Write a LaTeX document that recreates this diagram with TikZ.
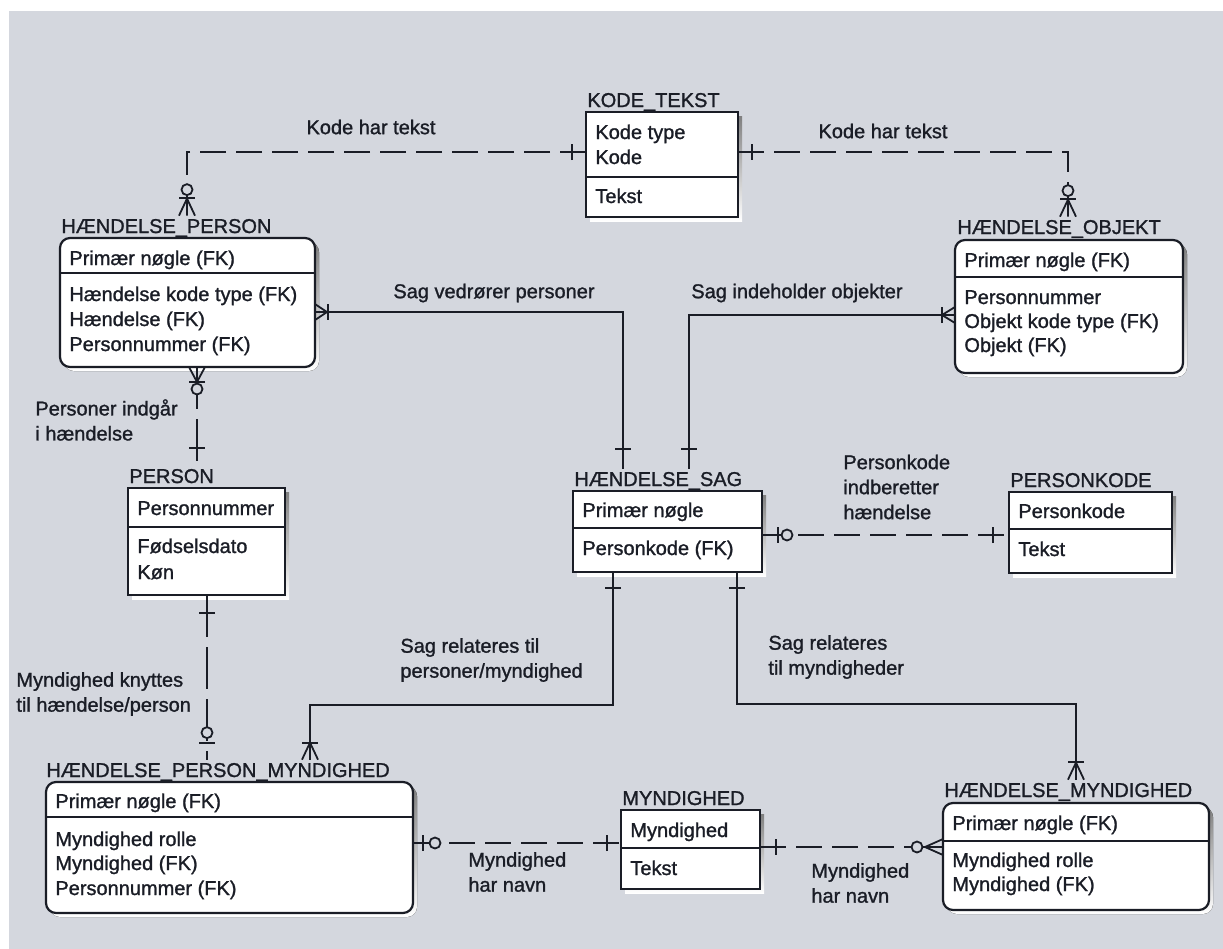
\documentclass[tikz,border=0pt]{standalone}
\usepackage{fontspec}
\setmainfont[FakeBold=1.2]{Liberation Sans}
\usetikzlibrary{fit}
\definecolor{paper}{RGB}{212,215,222}
\definecolor{ink}{RGB}{26,29,38}
\definecolor{shade}{RGB}{38,40,48}
\tikzset{
  fnt/.style={font=\fontsize{10}{12.5}\selectfont, text=ink},
  boxline/.style={draw=ink, line width=1.1pt},
  rel/.style={draw=ink, line width=0.9pt},
  nonid/.style={rel, dash pattern=on 13pt off 5pt},
  longdash/.style={rel, dash pattern=on 21pt off 5pt},
  etitle/.style={fnt, anchor=base west, inner xsep=0pt, inner ysep=1.5pt},
  attr/.style={fnt, anchor=base west, inner sep=0pt},
  rlabel/.style={fnt, align=left, anchor=west, inner sep=0pt},
  bar/.pic={\draw[rel, solid] (#1,-8) -- (#1,8);},
  crow/.pic={\draw[rel, solid] (0,-8) -- (#1,0) -- (0,8) (0,0) -- (#1,0);},
  ring/.pic={\draw[rel, solid, fill=paper] (#1,0) circle[radius=5.5];},
}
% entity box: name, x1, y1, x2, y2, key divider y, corner style
\newcommand{\erent}[7]{%
  \node[inner sep=0pt, outer sep=0pt, fit={(#2,#3) (#4,#5)}] (#1) {};
  \fill[shade, #7] ([shift={(4,4)}]#1.north west) rectangle ([shift={(4,4)}]#1.south east);
  \draw[boxline, fill=white, #7] (#1.north west) rectangle (#1.south east);
  \draw[boxline] (#1.west |- 0,#6) -- (#1.east |- 0,#6);
}
\begin{document}
\begin{tikzpicture}[x=0.5pt, y=-0.5pt]
\useasboundingbox (0,0) rectangle (1223,949);
\fill[white] (0,0) rectangle (1223,949);
\fill[paper] (9,11) rectangle (1223,949);

% ---------- entities ----------
\erent{kt}{586}{112}{738}{217}{177}{sharp corners}
\node[etitle] (ktT) at (587,107) {KODE\_TEKST};
\node[attr] (kt1) at (595,139) {Kode type};
\node[attr] (kt2) at (595,164) {Kode};
\node[attr] (kt3) at (595,203) {Tekst};

\erent{hp}{60}{238}{315}{367}{273}{rounded corners=5pt}
\node[etitle] (hpT) at (61,233) {HÆNDELSE\_PERSON};
\node[attr] (hp1) at (69,265) {Primær nøgle (FK)};
\node[attr] (hp2) at (69,301) {Hændelse kode type (FK)};
\node[attr] (hp3) at (69,326) {Hændelse (FK)};
\node[attr] (hp4) at (69,351) {Personnummer (FK)};

\erent{ho}{955}{240}{1183}{373}{277}{rounded corners=5pt}
\node[etitle] (hoT) at (957,234) {HÆNDELSE\_OBJEKT};
\node[attr] (ho1) at (964,267) {Primær nøgle (FK)};
\node[attr] (ho2) at (964,304) {Personnummer};
\node[attr] (ho3) at (964,328) {Objekt kode type (FK)};
\node[attr] (ho4) at (964,352) {Objekt (FK)};

\erent{sag}{573}{491}{762}{572}{528}{sharp corners}
\node[etitle] (sagT) at (574,486) {HÆNDELSE\_SAG};
\node[attr] (sag1) at (582,517) {Primær nøgle};
\node[attr] (sag2) at (582,555) {Personkode (FK)};

\erent{pk}{1009}{492}{1172}{573}{529}{sharp corners}
\node[etitle] (pkT) at (1010,487) {PERSONKODE};
\node[attr] (pk1) at (1018,518) {Personkode};
\node[attr] (pk2) at (1018,556) {Tekst};

\erent{per}{128}{488}{285}{595}{527}{sharp corners}
\node[etitle] (perT) at (129,483) {PERSON};
\node[attr] (per1) at (137,515) {Personnummer};
\node[attr] (per2) at (137,553) {Fødselsdato};
\node[attr] (per3) at (137,579) {Køn};

\erent{hpm}{46}{782}{413}{913}{817}{rounded corners=5pt}
\node[etitle] (hpmT) at (46,777) {HÆNDELSE\_PERSON\_MYNDIGHED};
\node[attr] (hpm1) at (55,808) {Primær nøgle (FK)};
\node[attr] (hpm2) at (55,846) {Myndighed rolle};
\node[attr] (hpm3) at (55,870) {Myndighed (FK)};
\node[attr] (hpm4) at (55,895) {Personnummer (FK)};

\erent{myn}{621}{810}{760}{889}{848}{sharp corners}
\node[etitle] (mynT) at (622,805) {MYNDIGHED};
\node[attr] (myn1) at (630,837) {Myndighed};
\node[attr] (myn2) at (630,875) {Tekst};

\erent{hm}{943}{803}{1209}{910}{841}{rounded corners=5pt}
\node[etitle] (hmT) at (944,797) {HÆNDELSE\_MYNDIGHED};
\node[attr] (hm1) at (952,830) {Primær nøgle (FK)};
\node[attr] (hm2) at (952,867) {Myndighed rolle};
\node[attr] (hm3) at (952,891) {Myndighed (FK)};

% ---------- relationship end points ----------
\coordinate (c1a) at (kt.west |- 0,152);
\coordinate (c1b) at (hpT.north -| 187,0);
\coordinate (c2a) at (kt.east |- 0,152);
\coordinate (c2b) at (hoT.north -| 1068,0);
\coordinate (c3a) at (hp.east |- 0,312);
\coordinate (c3b) at (sagT.north -| 623,0);
\coordinate (c4a) at (ho.west |- 0,315);
\coordinate (c4b) at (sagT.north -| 689,0);
\coordinate (c5a) at (hp.south -| 197,0);
\coordinate (c5b) at (perT.north -| 197,0);
\coordinate (c6a) at (per.south -| 207,0);
\coordinate (c6b) at (hpmT.north -| 207,0);
\coordinate (c7a) at (sag.south -| 613,0);
\coordinate (c7b) at (hpmT.north -| 310,0);
\coordinate (c8a) at (sag.south -| 737,0);
\coordinate (c8b) at (hmT.north -| 1076,0);
\coordinate (c9a) at (sag.east |- 0,535);
\coordinate (c9b) at (pk.west |- 0,535);
\coordinate (c10a) at (hpm.east |- 0,843);
\coordinate (c10b) at (myn.west |- 0,843);
\coordinate (c11a) at (myn.east |- 0,847);
\coordinate (c11b) at (hm.west |- 0,847);

% ---------- relationship lines ----------
\draw[nonid] (c1a) -| (c1b);
\draw[nonid] (c2a) -| (c2b);
\draw[rel] (c3a) -| (c3b);
\draw[rel] (c4a) -| (c4b);
\draw[longdash] (c5a) -- (c5b);
\draw[longdash] (c6a) -- (c6b);
\draw[rel] (c7a) -- (613,705) -| (c7b);
\draw[rel] (c8a) -- (737,704) -| (c8b);
\draw[nonid] (c9a) -- (c9b);
\draw[nonid] (c10a) -- (c10b);
\draw[nonid] (c11a) -- (c11b);

% ---------- cardinality marks ----------
\pic[rotate=180] at (c1a) {bar=14};
\pic[rotate=90] at (c1b) {crow=17};
\pic[rotate=90] at (c1b) {bar=18};
\pic[rotate=90] at (c1b) {ring=26};

\pic at (c2a) {bar=14};
\pic[rotate=90] at (c2b) {crow=17};
\pic[rotate=90] at (c2b) {bar=18};
\pic[rotate=90] at (c2b) {ring=26};

\pic at (c3a) {crow=12};
\pic at (c3a) {bar=13};
\pic[rotate=90] at (c3b) {bar=20};

\pic[rotate=180] at (c4a) {crow=13};
\pic[rotate=180] at (c4a) {bar=13};
\pic[rotate=90] at (c4b) {bar=20};

\pic[rotate=-90] at (c5a) {crow=15};
\pic[rotate=-90] at (c5a) {bar=15};
\pic[rotate=-90] at (c5a) {ring=22};
\pic[rotate=90] at (c5b) {bar=18};

\pic[rotate=-90] at (c6a) {bar=18};
\pic[rotate=90] at (c6b) {bar=17};
\pic[rotate=90] at (c6b) {ring=27};

\pic[rotate=-90] at (c7a) {bar=16};
\pic[rotate=90] at (c7b) {crow=17};
\pic[rotate=90] at (c7b) {bar=17};

\pic[rotate=-90] at (c8a) {bar=16};
\pic[rotate=90] at (c8b) {crow=17};
\pic[rotate=90] at (c8b) {bar=18};

\pic at (c9a) {bar=16};
\pic at (c9a) {ring=25};
\pic[rotate=180] at (c9b) {bar=16};

\pic at (c10a) {bar=10};
\pic at (c10a) {ring=22};
\pic[rotate=180] at (c10b) {bar=14};

\pic at (c11a) {bar=16};
\pic[rotate=180] at (c11b) {crow=18};
\pic[rotate=180] at (c11b) {ring=26};

% ---------- relationship names ----------
\node[rlabel, anchor=center] (l1) at (371,127) {Kode har tekst};
\node[rlabel, anchor=center] (l2) at (883,131) {Kode har tekst};
\node[rlabel, anchor=center] (l3) at (494,293) {Sag vedrører personer};
\node[rlabel, anchor=center] (l4) at (797,293) {Sag indeholder objekter};
\node[rlabel] (l5) at (35,420) {Personer indgår\\i hændelse};
\node[rlabel] (l6) at (16,694) {Myndighed knyttes\\til hændelse/person};
\node[rlabel] (l7) at (400,660) {Sag relateres til\\personer/myndighed};
\node[rlabel] (l8) at (768,657) {Sag relateres\\til myndigheder};
\node[rlabel] (l9) at (843,487) {Personkode\\indberetter\\hændelse};
\node[rlabel] (l10) at (468,872) {Myndighed\\har navn};
\node[rlabel] (l11) at (811,883) {Myndighed\\har navn};
\end{tikzpicture}
\end{document}
